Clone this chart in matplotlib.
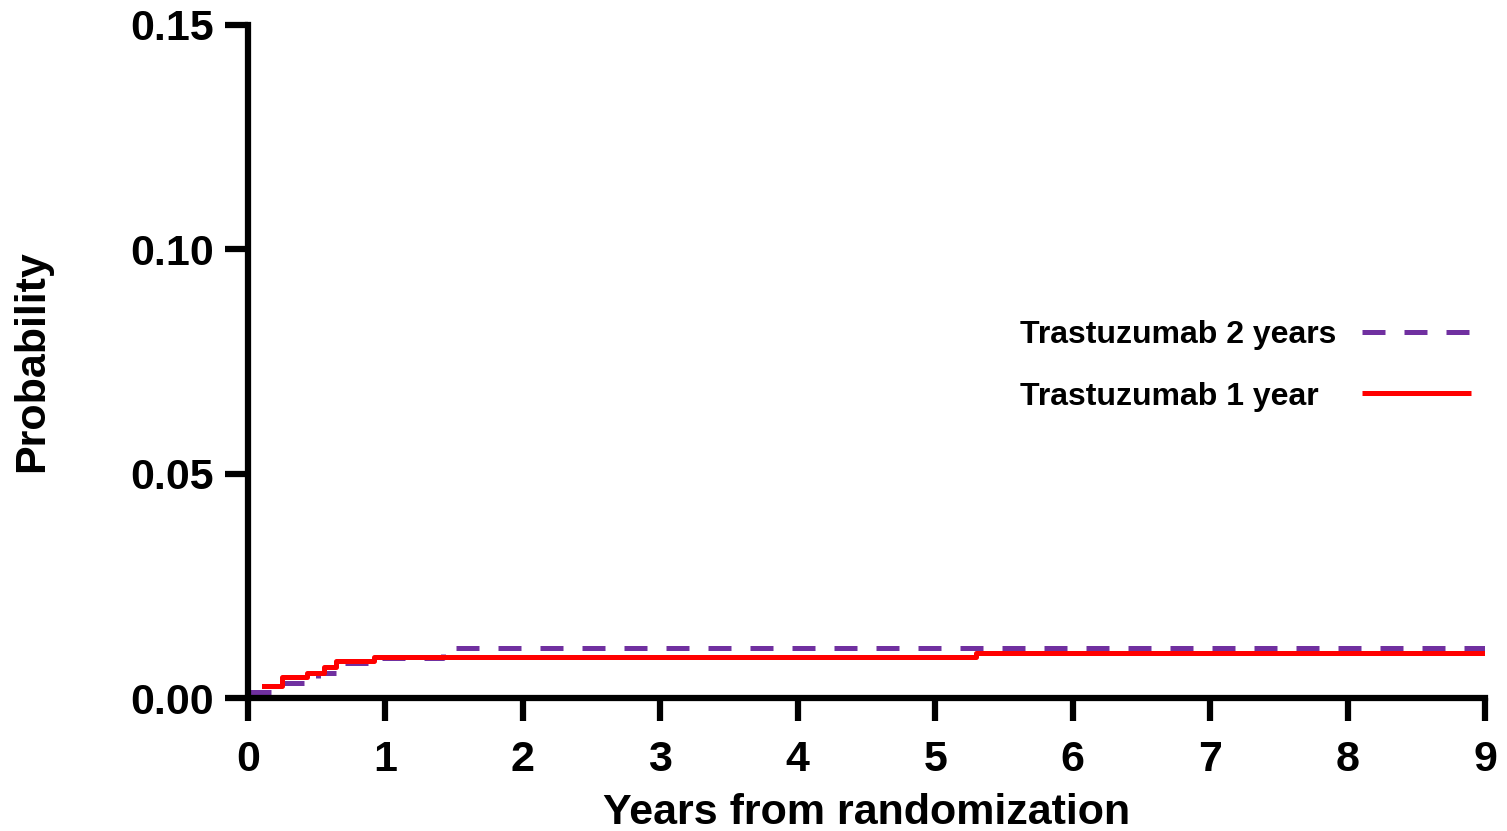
import matplotlib
matplotlib.use('Agg')
import matplotlib.pyplot as plt

# step times (years) and cumulative probability
t_2yr = [0.0, 0.17, 0.51, 0.65, 0.92, 1.42, 9.0]
p_2yr = [0.0013, 0.0033, 0.0055, 0.0078, 0.0089, 0.0111, 0.0111]

t_1yr = [0.12, 0.25, 0.43, 0.55, 0.64, 0.92, 5.3, 9.0]
p_1yr = [0.0027, 0.0047, 0.0056, 0.0069, 0.0082, 0.0091, 0.0100, 0.0100]

labels = ['Trastuzumab 2 years', 'Trastuzumab 1 year']
colors = ['#7030A0', '#FF0000']

x_ticks = list(range(0, 10))
y_ticks = [0.00, 0.05, 0.10, 0.15]
y_labels = ['0.00', '0.05', '0.10', '0.15']

plt.rcParams['font.family'] = ['Liberation Sans', 'DejaVu Sans']
plt.rcParams['font.weight'] = 'bold'

fig = plt.figure(figsize=(15.07, 8.31), dpi=100)
ax = fig.add_axes([248 / 1507, 133 / 831, (1485 - 248) / 1507, (698 - 25) / 831])

dash = (4.6, 3.8)
ax.step(t_2yr, p_2yr, where='post', color=colors[0], lw=3.6, dashes=dash)
ax.step(t_1yr, p_1yr, where='post', color=colors[1], lw=3.6)

ax.set_xlim(0, 9)
ax.set_ylim(0, 0.15)
ax.set_xticks(x_ticks)
ax.set_yticks(y_ticks)
ax.set_yticklabels(y_labels)

for side in ['top', 'right']:
    ax.spines[side].set_visible(False)
for side in ['left', 'bottom']:
    ax.spines[side].set_linewidth(4.5)
ax.tick_params(axis='both', width=4.5, length=16.5, labelsize=31)
ax.tick_params(axis='y', pad=8)
ax.tick_params(axis='x', pad=14)

ax.set_xlabel('Years from randomization', fontsize=31, fontweight='bold', labelpad=9)
ax.set_ylabel('Probability', fontsize=31, fontweight='bold')
ax.yaxis.set_label_coords(-0.158, 0.5)

# legend: labels left-aligned, sample lines to the right (axes coords)
text_y = [0.5275, 0.4354]
line_y = [0.5438, 0.4532]
for lab, col, ty, ly, ls in zip(labels, colors, text_y, line_y, [dash, None]):
    ax.text(0.624, ty, lab, transform=ax.transAxes, fontsize=23,
            fontweight='bold', va='baseline', ha='left')
    kw = {'dashes': ls} if ls else {}
    ax.plot([0.9006, 0.989], [ly, ly], transform=ax.transAxes, color=col,
            lw=3.6, clip_on=False, solid_capstyle='butt', **kw)

fig.savefig('out.png', dpi=100)
